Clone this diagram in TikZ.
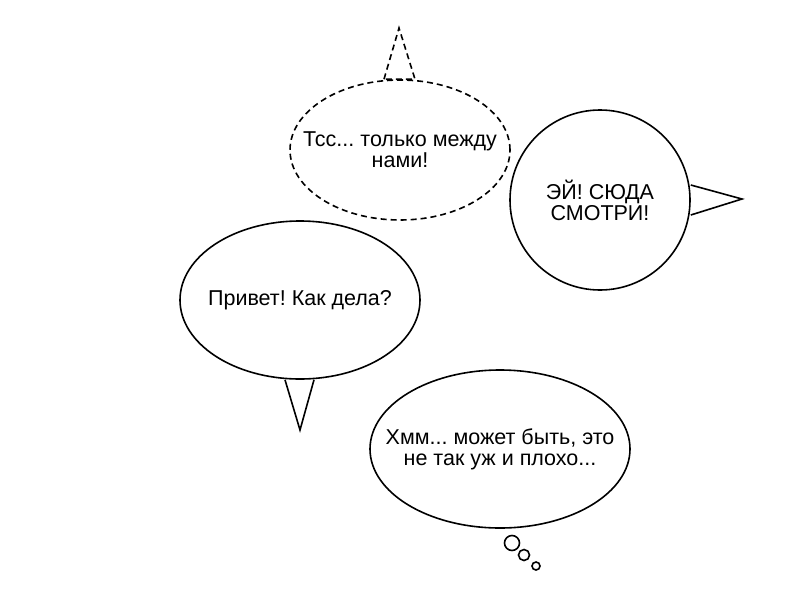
\documentclass[tikz,border=0pt]{standalone}
\usepackage{fontspec}
\setmainfont{Liberation Sans}
\usetikzlibrary{shapes.geometric}
\frenchspacing
\begin{document}
\begin{tikzpicture}[x=1pt,y=-1pt]
\tikzstyle{balao}=[ellipse, draw=black, line width=1.6pt, inner sep=0]
\tikzstyle{texto}=[align=center, inner sep=0, font=\fontsize{21.5}{21}\selectfont]
\tikzstyle{rabo}=[draw=black, line width=1.6pt, line join=miter]
\tikzstyle{bolha}=[circle, draw=black, line width=1.6pt, inner sep=0]
\useasboundingbox (0,0) rectangle (800,600);
% baloes
\node[balao, dash pattern=on 6pt off 4pt, minimum width=220, minimum height=140,
  label={[texto]center:Тсс... только между\\нами!}] (segredo) at (400,150) {};
\node[balao, circle, minimum size=180,
  label={[texto]center:ЭЙ! СЮДА\\СМОТРИ!}] (grito) at (600,200) {};
\node[balao, minimum width=240, minimum height=158,
  label={[texto]center:Привет! Как дела?}] (ola) at (300,300) {};
\node[balao, minimum width=260, minimum height=158,
  label={[texto]center:Хмм... может быть, это\\не так уж и плохо...}] (hmm) at (500,449) {};
% pontas
\coordinate (segredo-ponta) at (399,28);
\coordinate (grito-ponta) at (742,199);
\coordinate (ola-ponta) at (300,430);
\draw[rabo, dash pattern=on 6pt off 4pt] ([xshift=-16pt]segredo.north) -- (segredo-ponta) -- ([xshift=15pt]segredo.north) -- cycle;
\draw[rabo] ([yshift=15pt]grito.east) -- (grito-ponta) -- ([yshift=-15pt]grito.east);
\draw[rabo] ([xshift=-15pt]ola.south) -- (ola-ponta) -- ([xshift=14pt]ola.south);
% pensamento
\node[bolha, minimum size=15] (b1) at (512,543) {};
\node[bolha, minimum size=11] (b2) at (524,555) {};
\node[bolha, minimum size=8] (b3) at (536,566) {};
\end{tikzpicture}
\end{document}
